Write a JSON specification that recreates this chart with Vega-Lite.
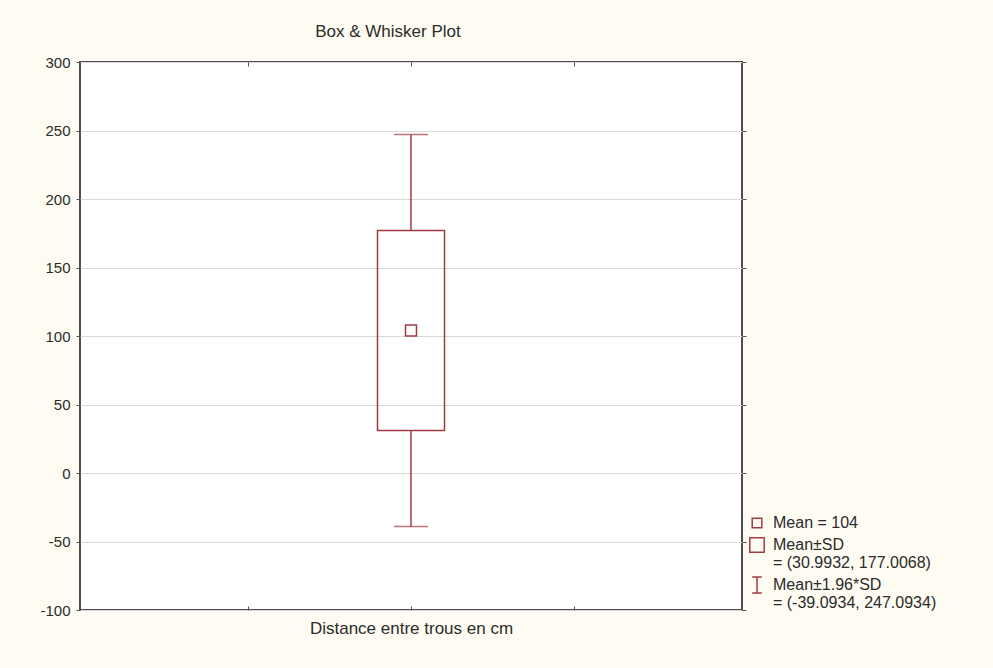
{
  "$schema": "https://vega.github.io/schema/vega-lite/v6.json",
  "autosize": "none",
  "width": 662,
  "height": 548,
  "padding": {"left": 80, "top": 62, "right": 251, "bottom": 58},
  "background": "#fefcf2",
  "title": {"text": "Box & Whisker Plot", "fontSize": 17, "fontWeight": "normal", "font": "Liberation Sans", "color": "#2b2b2b", "offset": 14, "dx": -23, "anchor": "middle", "frame": "group"},
  "data": {"values": [
    {"variable": "Distance entre trous en cm", "mean": 104, "sdLow": 30.9932, "sdHigh": 177.0068, "ciLow": -39.0934, "ciHigh": 247.0934}
  ]},
  "config": {
    "view": {"fill": "#ffffff", "stroke": "#4d4d4d", "strokeWidth": 2},
    "axis": {"labelFont": "Liberation Sans", "titleFont": "Liberation Sans", "labelColor": "#2b2b2b", "titleColor": "#2b2b2b", "domain": false, "tickColor": "#555555"}
  },
  "layer": [
    {
      "mark": {"type": "rule", "color": "#a33b42", "strokeWidth": 1.5},
      "encoding": {
        "x": {"datum": 2, "type": "quantitative", "scale": {"domain": [0, 4], "nice": false}, "axis": {"orient": "bottom", "values": [1, 2, 3], "labels": false, "grid": false, "tickSize": -4, "title": "Distance entre trous en cm", "titleFontSize": 17, "titleFontWeight": "normal", "titlePadding": 10}},
        "y": {"field": "sdHigh", "type": "quantitative", "scale": {"domain": [-100, 300], "nice": false}, "axis": {"values": [-100, -50, 0, 50, 100, 150, 200, 250, 300], "labelExpr": "'' + datum.value", "title": null, "labelFontSize": 15, "tickSize": 4, "labelPadding": 6, "grid": true, "gridColor": "#d9d9d9", "gridWidth": 1}},
        "y2": {"field": "ciHigh"}
      }
    },
    {
      "mark": {"type": "rule", "color": "#a33b42", "strokeWidth": 1.5},
      "encoding": {
        "x": {"datum": 2, "type": "quantitative", "axis": null},
        "y": {"field": "ciLow", "type": "quantitative", "axis": null},
        "y2": {"field": "sdLow"}
      }
    },
    {
      "mark": {"type": "tick", "orient": "horizontal", "color": "#a33b42", "size": 34, "thickness": 1.5},
      "encoding": {
        "x": {"datum": 2, "type": "quantitative", "axis": null},
        "y": {"field": "ciHigh", "type": "quantitative", "axis": null}
      }
    },
    {
      "mark": {"type": "tick", "orient": "horizontal", "color": "#a33b42", "size": 34, "thickness": 1.5},
      "encoding": {
        "x": {"datum": 2, "type": "quantitative", "axis": null},
        "y": {"field": "ciLow", "type": "quantitative", "axis": null}
      }
    },
    {
      "mark": {"type": "bar", "width": 67, "orient": "vertical", "fill": "#ffffff", "fillOpacity": 0, "stroke": "#a33b42", "strokeWidth": 1.5},
      "encoding": {
        "x": {"datum": 2, "type": "quantitative", "axis": null},
        "y": {"field": "sdLow", "type": "quantitative", "axis": null},
        "y2": {"field": "sdHigh"}
      }
    },
    {
      "mark": {"type": "point", "filled": false, "color": "#a33b42", "strokeWidth": 1.5, "size": 336, "opacity": 1},
      "encoding": {
        "x": {"datum": 2, "type": "quantitative", "axis": null},
        "y": {"field": "mean", "type": "quantitative", "axis": null},
        "shape": {
          "datum": "Mean = 104",
          "type": "nominal",
          "scale": {"domain": ["Mean = 104", "Mean±SD", "Mean±1.96*SD"], "range": ["M-0.6,-0.6H0.6V0.6H-0.6Z", "M-0.9,-0.9H0.9V0.9H-0.9Z", "M-0.6,-1H0.6M0,-1V1M-0.6,1H0.6"]},
          "legend": {
            "title": null,
            "orient": "none",
            "legendX": 668,
            "legendY": 452,
            "symbolSize": 256,
            "symbolFillColor": "transparent",
            "symbolStrokeColor": "#a33b42",
            "symbolStrokeWidth": 1.5,
            "labelFont": "Liberation Sans",
            "labelFontSize": 16,
            "labelColor": "#2b2b2b",
            "labelOffset": 7,
            "rowPadding": 3,
            "labelLimit": 300,
            "labelExpr": "datum.label == 'Mean±SD' ? ['Mean±SD', '= (30.9932, 177.0068)'] : datum.label == 'Mean±1.96*SD' ? ['Mean±1.96*SD', '= (-39.0934, 247.0934)'] : datum.label"
          }
        }
      }
    },
    {
      "mark": {"type": "rule", "opacity": 0},
      "encoding": {
        "x": {"datum": 2, "type": "quantitative", "axis": {"orient": "top", "values": [1, 2, 3], "labels": false, "grid": false, "tickSize": -4, "title": null}},
        "y": {"field": "mean", "type": "quantitative", "axis": {"orient": "right", "values": [-100, -50, 0, 50, 100, 150, 200, 250, 300], "labels": false, "grid": false, "tickSize": 4, "title": null}}
      }
    }
  ],
  "resolve": {"axis": {"x": "independent", "y": "independent"}}
}
